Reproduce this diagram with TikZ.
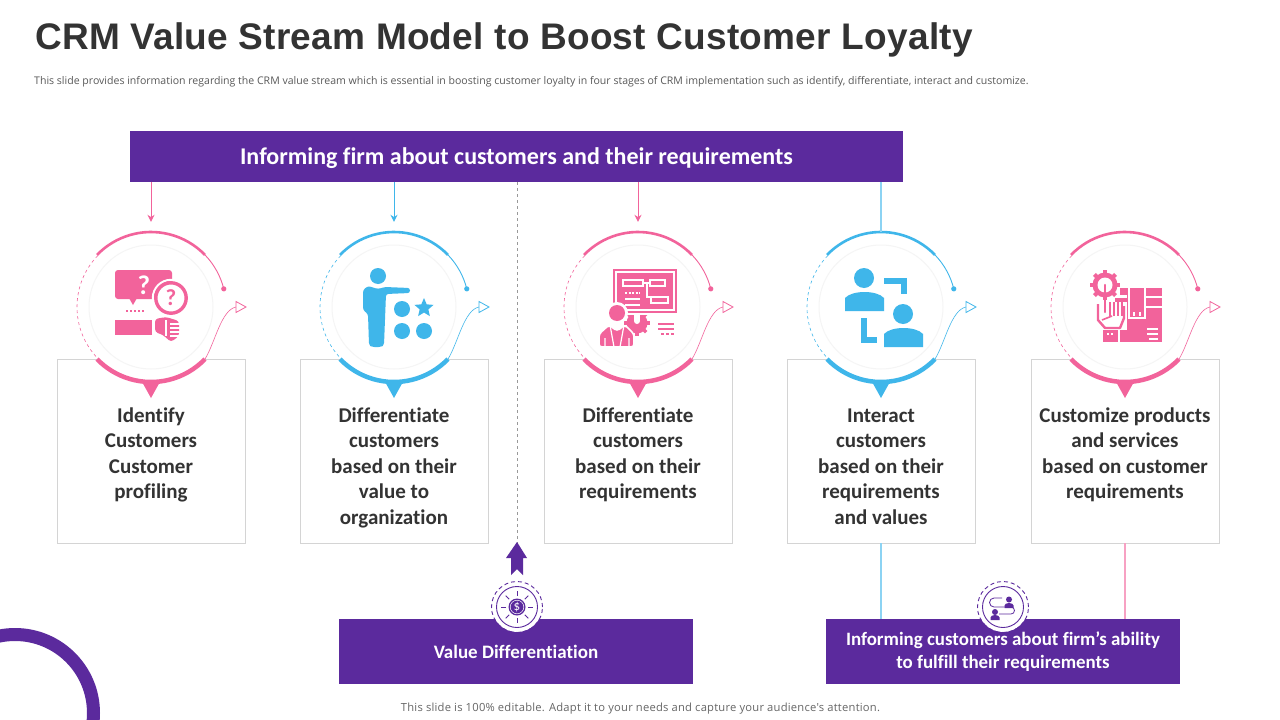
\documentclass[tikz,border=0pt]{standalone}
\usepackage{fontspec}
\setmainfont[Ligatures=NoCommon]{Carlito}
\newfontfamily\titlefont[LetterSpace=0.7]{Liberation Sans}
\newfontfamily\notefont{Open Sans}
\newfontfamily\footfont[LetterSpace=2]{Open Sans}
\usetikzlibrary{arrows.meta,shapes.geometric}
\definecolor{rose}{HTML}{F2639B}
\definecolor{sky}{HTML}{3FB6EA}
\definecolor{plum}{HTML}{5B2A9D}
\definecolor{ink}{HTML}{333333}
\definecolor{rim}{HTML}{D4D4D4}
\tikzset{
    stagebox/.style={draw=rim,line width=0.8pt,fill=white,minimum width=188pt,minimum height=184pt,inner sep=0},
    stagetext/.style={text=ink,align=center,font=\fontsize{21}{25.5}\selectfont\bfseries,inner sep=0},
    purplebar/.style={fill=plum,text=white,align=center,inner sep=0,font=\bfseries},
    ringspot/.style={circle,minimum size=150pt,inner sep=0,fill=white},
    badge/.style={circle,fill=white,minimum size=50pt,inner sep=0},
    feedline/.style={line width=1pt},
    plainfeed/.style={line width=1.2pt},
}
\begin{document}
\begin{tikzpicture}[x=1pt,y=1pt]
    \clip (0,-720) rectangle (1280,0);
    \fill[white] (0,-720) rectangle (1280,0);
    %% corner ring
    \draw[plum,line width=13pt] (15,-713) circle (78.5);
    %% heading
    \node[anchor=base west,inner sep=0,text=ink,font=\titlefont\fontsize{37}{37}\selectfont\bfseries] (title) at (35,-49) {CRM Value Stream Model to Boost Customer Loyalty};
    \node[anchor=base west,inner sep=0,text=black!65,font=\notefont\fontsize{10.55}{12}\selectfont] (intro) at (34,-84) {This slide provides information regarding the CRM value stream which is essential in boosting customer loyalty in four stages of CRM implementation such as identify, differentiate, interact and customize.};
    \node[anchor=base,inner sep=0,text=black!60,font=\footfont\fontsize{11.2}{12}\selectfont] (foot) at (640.5,-711) {This slide is 100\% editable. Adapt it to your needs and capture your audience's attention.};
    %% bars
    \node[purplebar,minimum width=773pt,minimum height=51pt] (topbar) at (516.5,-156.5) {};
    \node[purplebar,anchor=base,font=\fontsize{24}{26}\selectfont\bfseries] (toptext) at (516.5,-164) {Informing firm about customers and their requirements};
    \node[purplebar,minimum width=354pt,minimum height=65pt,font=\fontsize{19}{23}\selectfont\bfseries] (valuebar) at (516,-651.5) {\raisebox{-1pt}{Value Differentiation}};
    \node[purplebar,minimum width=354pt,minimum height=65pt,font=\fontsize{18.9}{23}\selectfont\bfseries] (abilitybar) at (1003,-651.5) {\raisebox{-1pt}{Informing customers about firm’s ability}\\\raisebox{-1pt}{to fulfill their requirements}};
    %% stages
    \foreach \n/\x/\col in {1/151/rose,2/394/sky,3/638/rose,4/881/sky,5/1125/rose} {
        \node[stagebox] (box\n) at (\x,-451) {};
        \node[ringspot] (ring\n) at (\x,-307) {};
        \begin{scope}[shift={(\x,-307)}]
            \draw[black!4,line width=1pt] (0,0) circle (62);
            \draw[\col,line width=2.6pt] (136:75) arc (136:44:75);
            \draw[\col,line width=0.9pt] (44:75) arc (44:14:75);
            \fill[\col] (14:75) circle (2.6);
            \draw[\col,line width=0.6pt,dashed] (136:74) arc (136:224:74);
            \fill[\col] (-10,-73) -- (0,-91) -- (10,-73) -- cycle;
            \draw[\col,line width=4.5pt] (224:75) arc (224:316:75);
            \draw[\col,line width=0.6pt] (316:75) .. controls (64,-36) and (70,-3) .. (85,0);
            \draw[\col,line width=0.8pt,fill=white,line join=miter] (85,5.5) -- (85,-5.5) -- (95,0) -- cycle;
        \end{scope}
    }
    \node[stagetext,anchor=north] (text1) at (151,-404) {\strut Identify\\Customers\\Customer\\profiling};
    \node[stagetext,anchor=north] (text2) at (394,-404) {\strut Differentiate\\customers\\based on their\\value to\\organization};
    \node[stagetext,anchor=north] (text3) at (638,-404) {\strut Differentiate\\customers\\based on their\\requirements};
    \node[stagetext,anchor=north] (text4) at (881,-404) {\strut Interact\\customers\\based on their\\requirements\\and values};
    \node[stagetext,anchor=north] (text5) at (1125,-404) {\strut Customize products\\and services\\based on customer\\requirements};
    %% connectors
    \draw[rose,feedline,-{Stealth[length=7pt,width=7pt]}] (topbar.south -| ring1) -- ([yshift=10pt]ring1.north);
    \draw[sky,feedline,-{Stealth[length=7pt,width=7pt]}] (topbar.south -| ring2) -- ([yshift=10pt]ring2.north);
    \draw[rose,feedline,-{Stealth[length=7pt,width=7pt]}] (topbar.south -| ring3) -- ([yshift=10pt]ring3.north);
    \draw[sky!60,plainfeed] (topbar.south -| ring4) -- (ring4.north);
    \draw[sky!60,plainfeed] (box4.south) -- (abilitybar.north -| box4);
    \draw[rose!60,plainfeed] (box5.south) -- (abilitybar.north -| box5);
    \coordinate (midfoot) at (517,-543);
    \draw[black!40,line width=0.6pt,dashed] (topbar.south -| midfoot) -- (midfoot);
    %% block arrow
    \fill[plum] (517,-542) -- (527,-558) -- (523,-558) -- (523,-575) -- (517,-569) -- (511,-575) -- (511,-558) -- (506,-558) -- cycle;
    %% value badge
    \node[badge] (valuebadge) at (517,-607) {};
    \begin{scope}[shift={(517,-607)}]
        \draw[plum,line width=0.9pt,dash pattern=on 4pt off 3pt] (0,0) circle (25.5);
        \draw[plum,line width=0.9pt] (0,0) circle (20.5);
        \fill[plum] (0,0) circle (8.5);
        \draw[white,line width=0.5pt] (0,0) circle (6.8);
        \foreach \a in {0,45,...,315} \draw[plum,line width=0.9pt] (\a:11) -- (\a:16);
        \node[text=white,inner sep=0,font=\fontsize{13}{13}\selectfont] (dollar) at (0,0) {\$};
    \end{scope}
    %% ability badge
    \node[badge] (abilitybadge) at (1003,-607) {};
    \begin{scope}[shift={(1003,-607)}]
        \draw[plum,line width=0.9pt,dash pattern=on 4pt off 3pt] (0,0) circle (25.5);
        \draw[plum,line width=0.9pt] (0,0) circle (20.5);
        \draw[plum,line width=0.8pt] (-1,9) -- (-9,9) arc (90:270:4.5) -- (8,0) arc (90:-90:3.5) -- (-4,-7);
        \fill[plum] (6,7.5) circle (3);
        \fill[plum] (1.5,-1) -- (1.5,1.5) arc (180:0:4.5 and 2.5) -- (10.5,-1) -- cycle;
        \fill[plum] (-8,-5) circle (3);
        \fill[plum] (-12.5,-13) -- (-12.5,-10.5) arc (180:0:4.5 and 2.5) -- (-3.5,-13) -- cycle;
    \end{scope}
    %% icon 1: questions
    \fill[rose,rounded corners=3pt] (115,-270) rectangle (172,-299);
    \fill[rose] (129,-298) -- (137,-298) -- (133,-305) -- cycle;
    \node[text=white,inner sep=0,font=\fontsize{27}{27}\selectfont\bfseries] (ask1) at (144,-285) {?};
    \draw[white,line width=2pt] (171,-298) circle (18.2);
    \draw[rose,line width=3.4pt,fill=white] (171,-298) circle (15.2);
    \node[text=rose,inner sep=0,font=\fontsize{23}{23}\selectfont\bfseries] (ask2) at (171,-298) {?};
    \draw[rose,line width=1.5pt,dash pattern=on 2pt off 2pt] (126,-311) -- (144,-311);
    \fill[rose] (115,-320) rectangle (152,-335);
    \fill[rose,rounded corners=3pt] (155,-319) -- (166,-317) -- (179,-321) -- (179,-336) -- (171,-342) -- (163,-335) -- (155,-332) -- cycle;
    \foreach \y in {324,328,332,336} \draw[white,line width=1.2pt] (170,-\y) -- (180,-\y);
    \draw[white,line width=1.2pt] (166,-320) -- (166,-336);
    %% icon 2: figure pointing
    \fill[sky] (378,-276) circle (8);
    \fill[sky,rounded corners=2.5pt] (363,-290) -- (368,-286) -- (378,-289) -- (385,-287) -- (410,-288) -- (410,-293) -- (386,-294) -- (384,-345) -- (381,-347) -- (372,-347) -- (369,-345) -- (368,-314) -- (363,-310) -- cycle;
    \foreach \cx/\cy in {402/309,402/331,424/331} \fill[sky] (\cx,-\cy) circle (8);
    \node[star,star points=5,star point ratio=2.2,fill=sky,inner sep=0,minimum size=20pt] (star2) at (424,-308) {};
    %% icon 3: board and presenter
    \begin{scope}
        \clip (620,-315) rectangle (655,-340);
        \foreach \a in {0,45,...,315} \draw[rose,line width=3.5pt] (637,-323) -- ++(\a:13);
        \fill[rose] (637,-323) circle (10.5);
    \end{scope}
    \fill[white] (634,-315) rectangle (640,-321);
    \fill[white] (637,-321) circle (3);
    \draw[rose,line width=2pt] (614,-270) rectangle (676,-312);
    \fill[rose] (617,-273) rectangle (673,-309);
    \foreach \ax/\ay/\bx/\by in {623/-280/643/-286,650/-280/665/-286,651/-297/668/-303} \draw[white,line width=1.6pt] (\ax,\ay) rectangle (\bx,\by);
    \draw[white,line width=1.4pt] (643,-283) -- (650,-283) (647,-283) -- (647,-297) -- (651,-297);
    \draw[white,line width=1.4pt,dash pattern=on 2pt off 1.5pt] (625,-293) -- (640,-293);
    \draw[white,line width=1.4pt] (625,-299) -- (640,-299) (625,-305) -- (640,-305);
    \fill[white] (617,-313) circle (11);
    \fill[rose] (617,-313) circle (8);
    \filldraw[fill=rose,draw=white,line width=1.6pt,rounded corners=3pt] (599,-347) -- (599,-334) -- (609,-325) -- (617,-331) -- (625,-325) -- (634,-334) -- (634,-347) -- cycle;
    \draw[white,line width=1.2pt] (610,-325) -- (614,-347) (624,-325) -- (620,-347) (605,-338) -- (605,-347) (629,-338) -- (629,-347);
    \draw[rose,line width=2.2pt] (658,-324) -- (674,-324) (658,-329) -- (674,-329);
    \draw[rose,line width=1.8pt,dash pattern=on 2.5pt off 2.5pt] (661,-334) -- (674,-334);
    %% icon 4: two people
    \fill[sky] (864,-278) circle (10);
    \fill[sky] (845,-311) -- (845,-298) .. controls (852,-290) and (877,-290) .. (884,-298) -- (884,-311) -- cycle;
    \fill[sky] (903,-314) circle (10);
    \fill[sky] (884,-347) -- (884,-334) .. controls (891,-326) and (916,-326) .. (923,-334) -- (923,-347) -- cycle;
    \draw[sky,line width=6pt] (884,-281) -- (904,-281) -- (904,-294);
    \draw[sky,line width=6pt] (864,-318) -- (864,-340) -- (877,-340);
    %% icon 5: gear, hand and parcel
    \foreach \a in {0,45,...,315} \draw[rose,line width=4pt] (1105,-285) -- ++(\a:15);
    \fill[rose] (1105,-285) circle (12.5);
    \fill[white] (1105,-285) circle (7.5);
    \fill[rose] (1120,-288) rectangle (1162,-342);
    \fill[white] (1120,-295) rectangle (1127,-298);
    \fill[white] (1120,-302) rectangle (1127,-330);
    \fill[rose] (1120,-288) rectangle (1127,-295);
    \fill[rose] (1115,-298) rectangle (1127,-302);
    \draw[white,line width=1.4pt] (1129,-288) -- (1129,-318) -- (1145,-318) -- (1145,-288);
    \draw[white,line width=1.4pt] (1145,-297) -- (1162,-297) (1145,-307) -- (1162,-307);
    \draw[white,line width=1.3pt] (1134,-316) -- (1134,-312) (1140,-316) -- (1140,-312);
    \draw[white,line width=1.3pt] (1147,-329) -- (1158,-329) (1147,-334) -- (1158,-334) (1149,-339) -- (1158,-339);
    %% hand outline
    \draw[rose,line width=2.4pt,line join=round] (1098,-304) -- (1098,-320) -- (1105,-328) -- (1120,-328) -- (1124,-318) -- (1124,-306);
    \draw[rose,line width=2.2pt,line cap=round] (1105,-285) -- (1105,-312);
    \foreach \fx in {1110,1114,1118,1122} \draw[rose,line width=1.6pt] (\fx,-302) -- (\fx,-316);
    \draw[rose,line width=1.6pt] (1102,-320) -- (1112,-316);
    \fill[rose] (1103,-330) rectangle (1118,-342);
    \draw[white,line width=1.3pt,dash pattern=on 2pt off 2pt] (1107,-334) -- (1113,-334);
\end{tikzpicture}
\end{document}
